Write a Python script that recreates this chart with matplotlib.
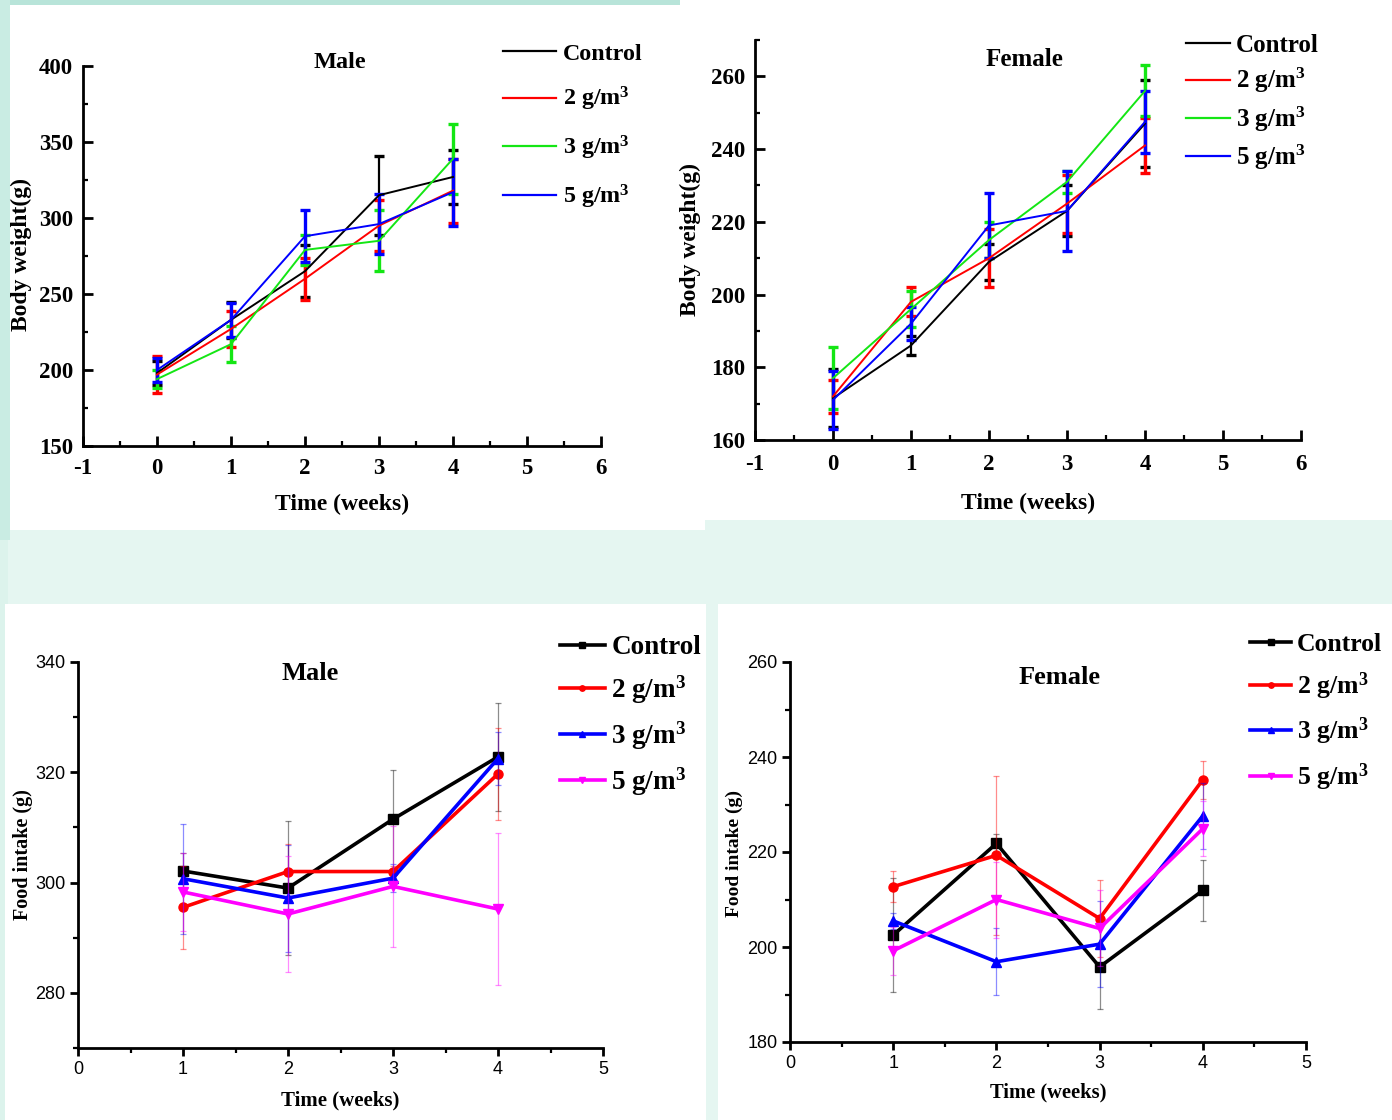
import matplotlib
matplotlib.use('Agg')
import matplotlib.pyplot as plt
from matplotlib.patches import Rectangle
from matplotlib.ticker import MultipleLocator

plt.rcParams['mathtext.fontset'] = 'custom'
plt.rcParams['mathtext.rm'] = 'Liberation Serif:bold'
plt.rcParams['mathtext.it'] = 'Liberation Serif:bold'
plt.rcParams['mathtext.bf'] = 'Liberation Serif:bold'
plt.rcParams['axes.unicode_minus'] = False

# ---------------- data ----------------
series_labels = ['Control', '2 g/m$^3$', '3 g/m$^3$', '5 g/m$^3$']

bw_weeks = [0, 1, 2, 3, 4]
male_bw_control = [198, 233, 265, 315, 327]
male_bw_control_err = [8, 12, 17, 26, 18]
male_bw_2 = [197, 227, 260, 295, 318]
male_bw_2_err = [12, 12, 14, 17, 21]
male_bw_3 = [194, 217, 279, 285, 339]
male_bw_3_err = [6, 12, 10, 20, 23]
male_bw_5 = [200, 233, 288, 296, 317]
male_bw_5_err = [8, 11, 17, 20, 22]

female_bw_control = [171.5, 186, 209, 223, 247]
female_bw_control_err = [8, 2.5, 5, 7, 12]
female_bw_2 = [172, 198, 210, 225, 241]
female_bw_2_err = [4.5, 4, 8, 8, 7.5]
female_bw_3 = [177, 196, 215, 231, 256]
female_bw_3_err = [8.5, 5, 5, 3, 7]
female_bw_5 = [171, 192, 219, 223, 247.5]
female_bw_5_err = [8, 4.5, 9, 11, 8.5]

fi_weeks = [1, 2, 3, 4]
male_fi_control = [302.1, 299.0, 311.5, 322.8]
male_fi_control_err = [3.3, 12.2, 9, 9.8]
male_fi_2 = [295.5, 302.0, 302.0, 319.7]
male_fi_2_err = [7.5, 5, 1, 8.3]
male_fi_3 = [300.7, 297.2, 300.8, 322.5]
male_fi_3_err = [10, 9.7, 2.5, 4.8]
male_fi_5 = [298.3, 294.3, 299.3, 295.2]
male_fi_5_err = [7, 10.5, 11, 13.7]

female_fi_control = [202.5, 221.8, 195.8, 211.9]
female_fi_control_err = [12, 2, 8.8, 6.5]
female_fi_2 = [212.7, 219.3, 206.0, 235.2]
female_fi_2_err = [3.2, 16.7, 8.2, 4]
female_fi_3 = [205.5, 196.9, 200.6, 227.6]
female_fi_3_err = [1.7, 7, 9, 7]
female_fi_5 = [199.2, 210.0, 203.9, 224.9]
female_fi_5_err = [5, 8, 8, 5.8]

# ---------------- layout helpers ----------------
W, H = 1392, 1120
fig = plt.figure(figsize=(W / 100, H / 100), dpi=100, facecolor='#e5f6f1')


def frac(x0, y0, x1, y1):
    return [x0 / W, 1 - y1 / H, (x1 - x0) / W, (y1 - y0) / H]


def add_rect(x0, y0, x1, y1, color, z):
    r = frac(x0, y0, x1, y1)
    fig.patches.append(Rectangle((r[0], r[1]), r[2], r[3], transform=fig.transFigure,
                                 facecolor=color, edgecolor='none', zorder=z))


# background tints
add_rect(0, 0, 700, 6, '#b8e4d9', -6)
add_rect(0, 0, 10, 540, '#c9ece3', -6)
add_rect(0, 540, 8, 1120, '#dcf3ec', -6)
# white panels
for (x0, y0, x1, y1) in [(10, 5, 705, 530), (680, 0, 1392, 520),
                         (5, 604, 706, 1120), (718, 604, 1392, 1120)]:
    add_rect(x0, y0, x1, y1, 'white', -5)

serif = 'Liberation Serif'
sans = 'Liberation Sans'


def style_axes(ax, tickfont, tickweight, ticksize, tdir, xpad, ypad, tlen):
    ax.set_facecolor('none')
    ax.set_zorder(2)
    for s in ['top', 'right']:
        ax.spines[s].set_visible(False)
    for s in ['left', 'bottom']:
        ax.spines[s].set_linewidth(2.0)
    ax.tick_params(axis='x', which='major', direction=tdir, length=tlen, width=2, pad=xpad)
    ax.tick_params(axis='x', which='minor', direction=tdir, length=tlen * 0.55, width=1.6)
    ax.tick_params(axis='y', which='major', direction=tdir, length=tlen, width=2, pad=ypad)
    ax.tick_params(axis='y', which='minor', direction=tdir, length=tlen * 0.55, width=1.6)
    for lab in ax.get_xticklabels() + ax.get_yticklabels():
        lab.set_fontfamily(tickfont)
        lab.set_fontweight(tickweight)
        lab.set_fontsize(ticksize)


def set_labels(ax, xlab, ylab, xsize, ysize, xc, yc):
    ax.set_xlabel(xlab, fontfamily=serif, fontweight='bold', fontsize=xsize)
    ax.set_ylabel(ylab, fontfamily=serif, fontweight='bold', fontsize=ysize)
    ax.xaxis.label.set_va('center')
    ax.yaxis.label.set_va('center')
    ax.xaxis.set_label_coords(*xc)
    ax.yaxis.set_label_coords(*yc)


colors_bw = ['black', '#ff0000', '#14e614', '#0000ff']
colors_fi = ['black', '#ff0000', '#0000ff', '#ff00ff']
markers_fi = ['s', 'o', '^', 'v']

# ---------------- Panel 1: male body weight ----------------
ax1 = fig.add_axes(frac(83, 66, 601, 446))
ax1.set_xlim(-1, 6)
ax1.set_ylim(150, 400)
ax1.xaxis.set_major_locator(MultipleLocator(1))
ax1.xaxis.set_minor_locator(MultipleLocator(0.5))
ax1.yaxis.set_major_locator(MultipleLocator(50))
ax1.yaxis.set_minor_locator(MultipleLocator(25))
bw_male = [(male_bw_control, male_bw_control_err), (male_bw_2, male_bw_2_err),
           (male_bw_3, male_bw_3_err), (male_bw_5, male_bw_5_err)]
handles = []
for (vals, errs), c, lab in zip(bw_male, colors_bw, series_labels):
    lw_e = 1.6 if c == 'black' else 2.4
    ax1.errorbar(bw_weeks, vals, yerr=errs, color=c, lw=1.4, elinewidth=lw_e,
                 capsize=3.5, capthick=2.4, clip_on=False)
    h, = ax1.plot([], [], color=c, lw=1.6, label=lab)
    handles.append(h)
style_axes(ax1, serif, 'bold', 16.5, 'in', 9, 7, 7)
ax1.text(0.496, 1.01, 'Male', transform=ax1.transAxes, ha='center', va='center',
         fontfamily=serif, fontweight='bold', fontsize=17.5)
set_labels(ax1, 'Time (weeks)', 'Body weight(g)', 17, 17, (0.5, -0.155), (-0.118, 0.503))
leg = fig.legend(handles=handles, loc='upper left', bbox_to_anchor=(503 / W, 1 - 43 / H),
                 frameon=False, handlelength=2.2, handletextpad=0.3, labelspacing=0.85,
                 borderaxespad=0, borderpad=0,
                 prop={'family': serif, 'weight': 'bold', 'size': 17.3})
leg.set_zorder(3)

# ---------------- Panel 2: female body weight ----------------
ax2 = fig.add_axes(frac(755, 40, 1301, 440))
ax2.set_xlim(-1, 6)
ax2.set_ylim(160, 270)
ax2.xaxis.set_major_locator(MultipleLocator(1))
ax2.xaxis.set_minor_locator(MultipleLocator(0.5))
ax2.yaxis.set_major_locator(MultipleLocator(20))
ax2.yaxis.set_minor_locator(MultipleLocator(10))
bw_female = [(female_bw_control, female_bw_control_err), (female_bw_2, female_bw_2_err),
             (female_bw_3, female_bw_3_err), (female_bw_5, female_bw_5_err)]
handles = []
for (vals, errs), c, lab in zip(bw_female, colors_bw, series_labels):
    lw_e = 1.6 if c == 'black' else 2.4
    ax2.errorbar(bw_weeks, vals, yerr=errs, color=c, lw=1.4, elinewidth=lw_e,
                 capsize=3.5, capthick=2.4, clip_on=False)
    h, = ax2.plot([], [], color=c, lw=1.6, label=lab)
    handles.append(h)
style_axes(ax2, serif, 'bold', 16.5, 'in', 10, 7, 7)
ax2.text(0.494, 0.95, 'Female', transform=ax2.transAxes, ha='center', va='center',
         fontfamily=serif, fontweight='bold', fontsize=18)
set_labels(ax2, 'Time (weeks)', 'Body weight(g)', 17, 17, (0.5, -0.158), (-0.119, 0.5))
leg = fig.legend(handles=handles, loc='upper left', bbox_to_anchor=(1186 / W, 1 - 34 / H),
                 frameon=False, handlelength=1.75, handletextpad=0.25, labelspacing=0.36,
                 borderaxespad=0, borderpad=0,
                 prop={'family': serif, 'weight': 'bold', 'size': 18})
leg.set_zorder(3)

# ---------------- Panel 3: male food intake ----------------
ax3 = fig.add_axes(frac(78, 662, 603, 1048))
ax3.set_xlim(0, 5)
ax3.set_ylim(270, 340)
ax3.xaxis.set_major_locator(MultipleLocator(1))
ax3.xaxis.set_minor_locator(MultipleLocator(0.5))
ax3.yaxis.set_major_locator(MultipleLocator(20))
ax3.yaxis.set_minor_locator(MultipleLocator(10))
fi_male = [(male_fi_control, male_fi_control_err), (male_fi_2, male_fi_2_err),
           (male_fi_3, male_fi_3_err), (male_fi_5, male_fi_5_err)]
handles = []
for (vals, errs), c, m, lab in zip(fi_male, colors_fi, markers_fi, series_labels):
    ax3.errorbar(fi_weeks, vals, yerr=errs, fmt='none', ecolor=c, elinewidth=0.9,
                 capsize=2.5, capthick=0.9, alpha=0.45)
    h, = ax3.plot(fi_weeks, vals, color=c, lw=2.6, marker=m, markersize=6.5, label=lab)
    handles.append(h)
style_axes(ax3, sans, 'normal', 13, 'out', 3, 3, 6)
ax3.text(0.442, 0.969, 'Male', transform=ax3.transAxes, ha='center', va='center',
         fontfamily=serif, fontweight='bold', fontsize=19)
set_labels(ax3, 'Time (weeks)', 'Food intake (g)', 15, 14.5, (0.499, -0.135), (-0.105, 0.5))
leg = fig.legend(handles=handles, loc='upper left', bbox_to_anchor=(560 / W, 1 - 635 / H),
                 frameon=False, handlelength=1.65, handletextpad=0.25, labelspacing=0.5,
                 borderaxespad=0, borderpad=0, markerscale=0.6,
                 prop={'family': serif, 'weight': 'bold', 'size': 19.5})
leg.set_zorder(3)

# ---------------- Panel 4: female food intake ----------------
ax4 = fig.add_axes(frac(790, 662, 1306, 1042))
ax4.set_xlim(0, 5)
ax4.set_ylim(180, 260)
ax4.xaxis.set_major_locator(MultipleLocator(1))
ax4.xaxis.set_minor_locator(MultipleLocator(0.5))
ax4.yaxis.set_major_locator(MultipleLocator(20))
ax4.yaxis.set_minor_locator(MultipleLocator(10))
fi_female = [(female_fi_control, female_fi_control_err), (female_fi_2, female_fi_2_err),
             (female_fi_3, female_fi_3_err), (female_fi_5, female_fi_5_err)]
handles = []
for (vals, errs), c, m, lab in zip(fi_female, colors_fi, markers_fi, series_labels):
    ax4.errorbar(fi_weeks, vals, yerr=errs, fmt='none', ecolor=c, elinewidth=0.9,
                 capsize=2.5, capthick=0.9, alpha=0.45)
    h, = ax4.plot(fi_weeks, vals, color=c, lw=2.6, marker=m, markersize=6.5, label=lab)
    handles.append(h)
style_axes(ax4, sans, 'normal', 13, 'out', 3, 3, 6)
ax4.text(0.523, 0.96, 'Female', transform=ax4.transAxes, ha='center', va='center',
         fontfamily=serif, fontweight='bold', fontsize=19)
set_labels(ax4, 'Time (weeks)', 'Food intake (g)', 14.8, 14, (0.5, -0.134), (-0.107, 0.497))
leg = fig.legend(handles=handles, loc='upper left', bbox_to_anchor=(1250 / W, 1 - 633 / H),
                 frameon=False, handlelength=1.6, handletextpad=0.22, labelspacing=0.55,
                 borderaxespad=0, borderpad=0, markerscale=0.6,
                 prop={'family': serif, 'weight': 'bold', 'size': 18.5})
leg.set_zorder(3)

fig.savefig('out.png', dpi=100, facecolor=fig.get_facecolor())
